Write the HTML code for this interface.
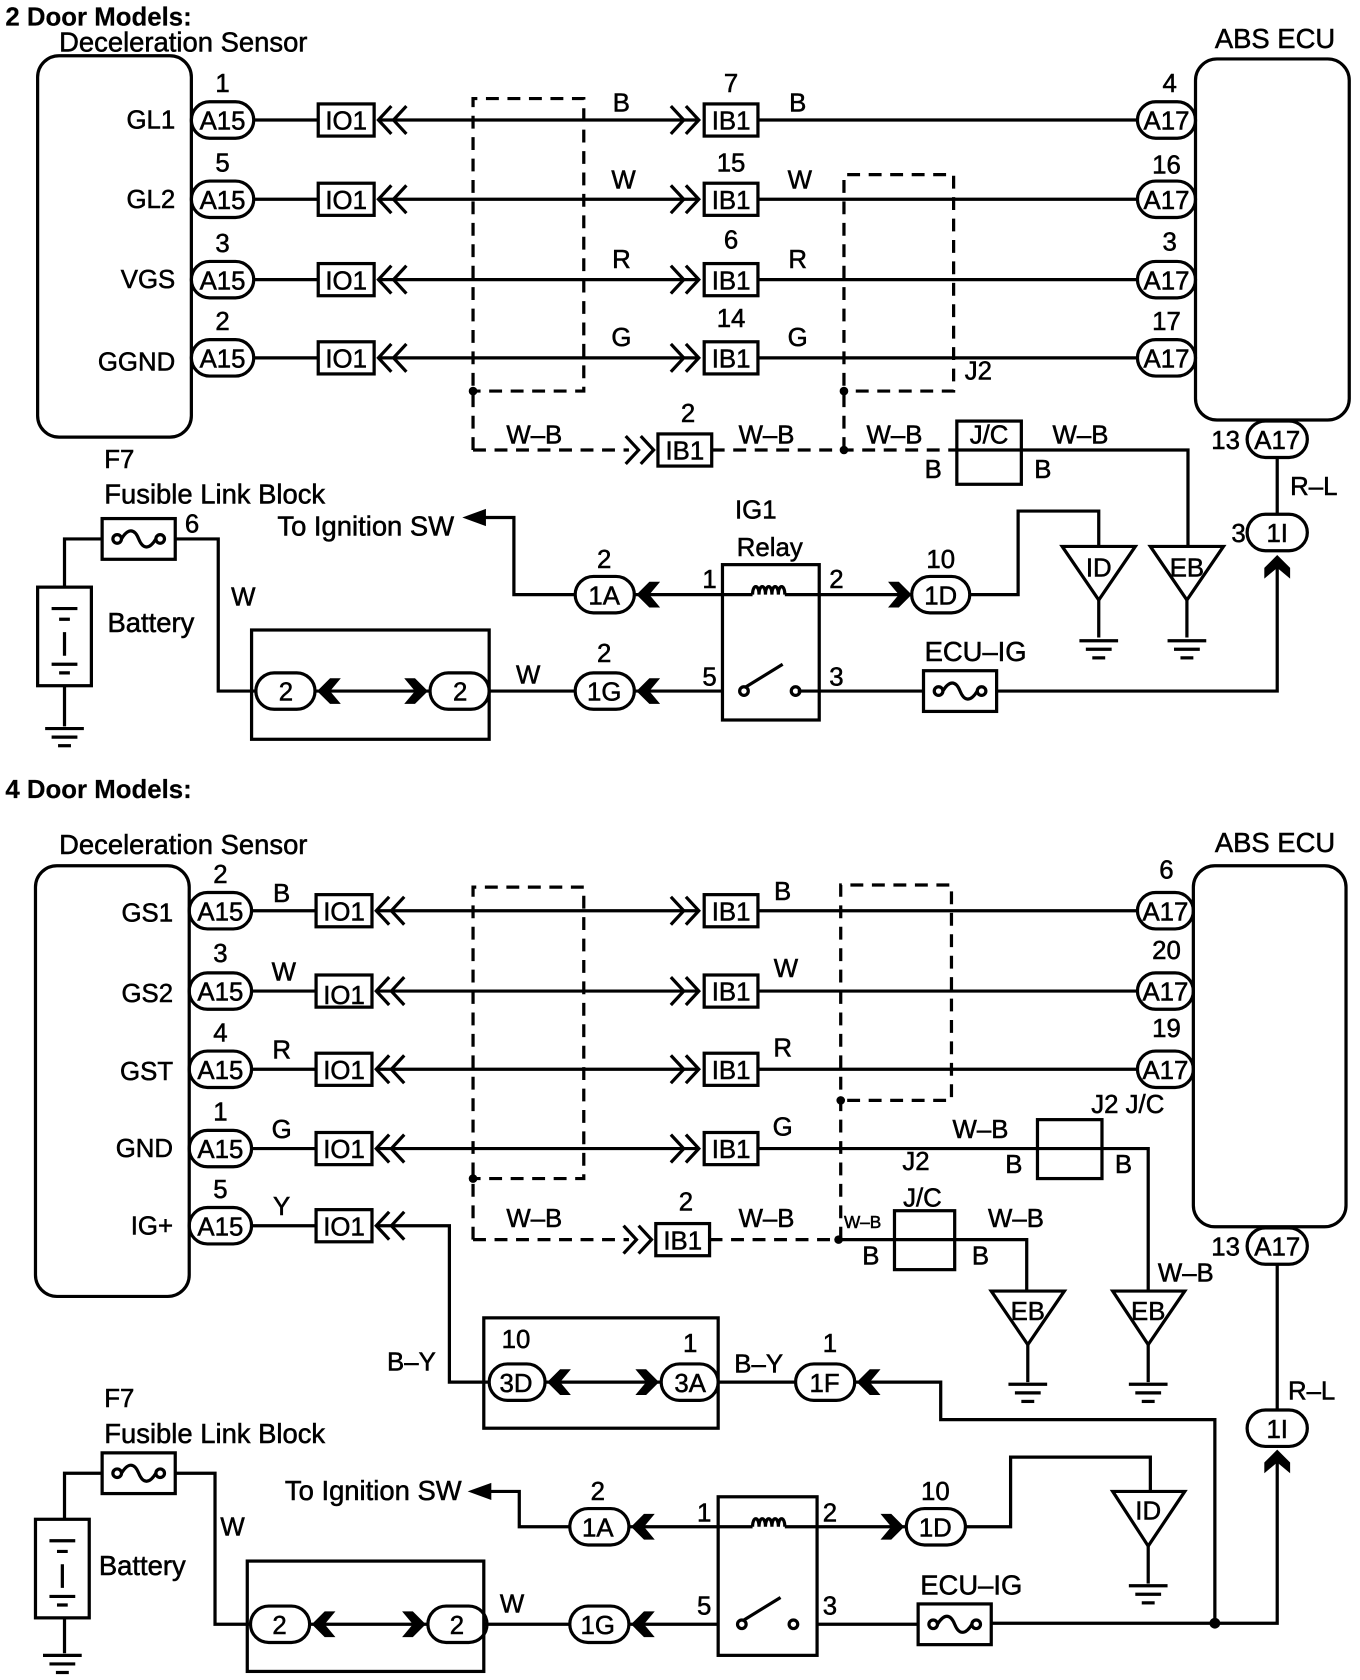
<!DOCTYPE html>
<html><head><meta charset="utf-8"><style>
html,body{margin:0;padding:0;background:#fff;}
svg{display:block}
text{font-family:"Liberation Sans",Arial,sans-serif;font-size:24px;fill:#000;stroke:#000;stroke-width:0.5}
.b{font-weight:bold;stroke-width:0.2}
.L{font-size:25.5px}
</style></head><body>
<svg width="1360" height="1680" viewBox="0 0 1265 1568" preserveAspectRatio="none" xmlns="http://www.w3.org/2000/svg">
<defs>
<g id="ol" fill="none" stroke="#000" stroke-width="3"><polyline points="12,-13 0,0 12,13"/><polyline points="26,-13 14,0 26,13"/></g>
<g id="or" fill="none" stroke="#000" stroke-width="3"><polyline points="-12,-13 0,0 -12,13"/><polyline points="-26,-13 -14,0 -26,13"/></g>
<polygon id="fl" points="0,0 12,-12 22,-12 12,0 22,12 12,12" fill="#000"/>
<polygon id="fr" points="0,0 -12,-12 -22,-12 -12,0 -22,12 -12,12" fill="#000"/>
<polygon id="fu" points="0,0 -12,12 -12,22 0,12 12,22 12,12" fill="#000"/>
<g id="gnd" stroke="#000" stroke-width="3"><line x1="-18" y1="0" x2="18" y2="0"/><line x1="-12" y1="8" x2="12" y2="8"/><line x1="-6" y1="16" x2="6" y2="16"/></g>
<g id="fuse" fill="none" stroke="#000" stroke-width="3"><rect x="-34" y="-19" width="68" height="38"/><circle cx="-20" cy="0" r="4"/><circle cx="20" cy="0" r="4"/><path d="M-16,0 C-10,-10 -4,-10 0,0 C4,10 10,10 16,0"/></g>
</defs>
<g fill="none" stroke="#000" stroke-width="3">
<rect x="35" y="52" width="143" height="356" rx="20"/>
<rect x="1112" y="55" width="143" height="337" rx="20"/>
<rect x="178" y="95" width="58" height="34" rx="17"/><rect x="178" y="169" width="58" height="34" rx="17"/><rect x="178" y="244" width="58" height="34" rx="17"/><rect x="178" y="317" width="58" height="34" rx="17"/>
<path d="M236,112H296M236,186H296M236,261H296M236,334H296"/>
<rect x="296" y="97" width="52" height="30"/><rect x="296" y="171" width="52" height="30"/><rect x="296" y="246" width="52" height="30"/><rect x="296" y="319" width="52" height="30"/>
<path d="M352,112H650M352,186H650M352,261H650M352,334H650"/>
<rect x="655" y="97" width="50" height="30"/><rect x="655" y="171" width="50" height="30"/><rect x="655" y="246" width="50" height="30"/><rect x="655" y="319" width="50" height="30"/>
<path d="M705,112H1058M705,186H1058M705,261H1058M705,334H1058"/>
<rect x="1058" y="95" width="54" height="34" rx="17"/><rect x="1058" y="169" width="54" height="34" rx="17"/><rect x="1058" y="244" width="54" height="34" rx="17"/><rect x="1058" y="317" width="54" height="34" rx="17"/>
<g stroke-dasharray="12,8">
<path d="M440,420V92H543V365H440"/>
<path d="M440,420H585"/>
<path d="M662,420H890"/>
<path d="M785,420V163H887V365H785"/>
</g>
<rect x="612" y="405" width="50" height="30"/>
<rect x="890" y="393" width="60" height="59"/>
<path d="M890,420H950"/>
<path d="M950,420H1105V510"/>
<polygon points="1070,510 1138,510 1104,560"/><path d="M1104,560V595"/>
<polygon points="988,510 1056,510 1022,560"/><path d="M1022,560V595"/>
<path d="M1022,510V477H947V555H902"/>
<rect x="848" y="538" width="54" height="34" rx="17"/>
<path d="M848,555H762"/>
<rect x="1160" y="393" width="56" height="34" rx="17"/>
<path d="M1188,427V480"/>
<rect x="1160" y="480" width="56" height="34" rx="17"/>
<path d="M1188,525V645H928M858,645H742"/>
<rect x="672" y="527" width="90" height="145"/>
<path d="M672,555H700M730,555H762"/>
<path d="M700,555c0,-10 6,-10 6,0c0,-10 6,-10 6,0c0,-10 6,-10 6,0c0,-10 6,-10 6,0c0,-10 6,-10 6,0"/>
<circle cx="692" cy="645" r="4"/><circle cx="740" cy="645" r="4"/><path d="M694,641L728,620"/>
<path d="M672,645H590M535,645H455"/>
<path d="M672,555H590M535,555H478V483H450"/>
<rect x="535" y="538" width="55" height="34" rx="17"/>
<rect x="535" y="628" width="55" height="34" rx="17"/>
<rect x="234" y="588" width="221" height="102"/>
<rect x="238" y="628" width="55" height="34" rx="17"/><rect x="400" y="628" width="55" height="34" rx="17"/>
<path d="M293,645H400"/>
<path d="M238,645H203V503H163"/>
<path d="M95,503H60V548M60,640V678"/>
<rect x="35" y="548" width="50" height="92"/>
<path d="M48,568H72M55,578H65M60,590V612M48,620H72M55,628H65" stroke-width="3"/>
<rect x="33" y="808" width="143" height="402" rx="20"/>
<rect x="1110" y="808" width="142" height="337" rx="20"/>
<rect x="176" y="833" width="58" height="34" rx="17"/><rect x="176" y="908" width="58" height="34" rx="17"/><rect x="176" y="981" width="58" height="34" rx="17"/><rect x="176" y="1055" width="58" height="34" rx="17"/><rect x="176" y="1127" width="58" height="34" rx="17"/>
<path d="M234,850H294M234,925H294M234,998H294M234,1072H294M234,1144H294"/>
<rect x="294" y="835" width="52" height="30"/><rect x="294" y="910" width="52" height="30"/><rect x="294" y="983" width="52" height="30"/><rect x="294" y="1057" width="52" height="30"/><rect x="294" y="1129" width="52" height="30"/>
<path d="M350,850H650M350,925H650M350,998H650M350,1072H650M350,1144H418V1290H455"/>
<rect x="655" y="835" width="50" height="30"/><rect x="655" y="910" width="50" height="30"/><rect x="655" y="983" width="50" height="30"/><rect x="655" y="1057" width="50" height="30"/>
<path d="M705,850H1058M705,925H1058M705,998H1058M705,1072H1068V1205"/>
<rect x="1058" y="833" width="52" height="34" rx="17"/><rect x="1058" y="908" width="52" height="34" rx="17"/><rect x="1058" y="981" width="52" height="34" rx="17"/>
<rect x="965" y="1045" width="60" height="55"/>
<polygon points="1035,1205 1102,1205 1068,1255"/><path d="M1068,1255V1290"/>
<g stroke-dasharray="12,8">
<path d="M440,1157V828H543V1100H440"/>
<path d="M440,1157H585"/>
<path d="M660,1157H780"/>
<path d="M782,1157V826H885V1027H782"/>
</g>
<rect x="610" y="1142" width="50" height="30"/>
<path d="M780,1157H955V1205"/>
<rect x="832" y="1130" width="56" height="55"/>
<polygon points="922,1205 990,1205 956,1255"/><path d="M956,1255V1290"/>
<rect x="1160" y="1146" width="56" height="34" rx="17"/>
<path d="M1188,1180V1316"/>
<rect x="1160" y="1316" width="56" height="34" rx="17"/>
<path d="M1188,1362V1515H923M853,1516H760"/>
<path d="M1130,1515V1325H875V1290H795"/>
<rect x="740" y="1273" width="55" height="34" rx="17"/>
<path d="M740,1290H668"/>
<rect x="450" y="1230" width="218" height="103"/>
<rect x="455" y="1273" width="52" height="34" rx="17"/><rect x="615" y="1273" width="53" height="34" rx="17"/>
<path d="M507,1290H615"/>
<rect x="668" y="1397" width="92" height="148"/>
<path d="M668,1425H700M730,1425H760"/>
<path d="M700,1425c0,-10 6,-10 6,0c0,-10 6,-10 6,0c0,-10 6,-10 6,0c0,-10 6,-10 6,0c0,-10 6,-10 6,0"/>
<circle cx="690" cy="1516" r="4"/><circle cx="738" cy="1516" r="4"/><path d="M692,1512L726,1491"/>
<path d="M668,1425H585M530,1425H483V1392H455"/>
<rect x="530" y="1408" width="55" height="34" rx="17"/>
<path d="M760,1425H843"/>
<rect x="843" y="1408" width="55" height="34" rx="17"/>
<path d="M898,1425H940V1360H1070V1392"/>
<polygon points="1035,1392 1102,1392 1068,1443"/><path d="M1068,1443V1478"/>
<path d="M668,1516H585M530,1516H450"/>
<rect x="530" y="1499" width="55" height="34" rx="17"/>
<rect x="230" y="1457" width="220" height="103"/>
<rect x="233" y="1499" width="55" height="34" rx="17"/><rect x="398" y="1499" width="55" height="34" rx="17"/>
<path d="M288,1516H398"/>
<path d="M233,1516H200V1375H163"/>
<path d="M95,1375H60V1418M60,1510V1543"/>
<rect x="33" y="1418" width="50" height="92"/>
<path d="M46,1438H70M53,1448H63M58,1460V1482M46,1490H70M53,1498H63"/>
</g>
<use href="#ol" x="352" y="112"/><use href="#ol" x="352" y="186"/><use href="#ol" x="352" y="261"/><use href="#ol" x="352" y="334"/>
<use href="#or" x="650" y="112"/><use href="#or" x="650" y="186"/><use href="#or" x="650" y="261"/><use href="#or" x="650" y="334"/>
<use href="#or" x="608" y="420"/>
<circle cx="440" cy="365" r="4"/><circle cx="785" cy="365" r="4"/><circle cx="785" cy="420" r="4"/>
<use href="#gnd" x="1104" y="598"/><use href="#gnd" x="1022" y="598"/>
<use href="#fr" x="848" y="555"/><use href="#fl" x="592" y="555"/><use href="#fl" x="592" y="645"/>
<use href="#fl" x="295" y="645"/><use href="#fr" x="398" y="645"/>
<use href="#fu" x="1188" y="518"/>
<use href="#fuse" x="129" y="503"/><use href="#fuse" x="893" y="645"/>
<use href="#gnd" x="60" y="680"/>
<polygon points="430,483 452,475 452,491"/>
<use href="#ol" x="350" y="850"/><use href="#ol" x="350" y="925"/><use href="#ol" x="350" y="998"/><use href="#ol" x="350" y="1072"/><use href="#ol" x="350" y="1144"/>
<use href="#or" x="650" y="850"/><use href="#or" x="650" y="925"/><use href="#or" x="650" y="998"/><use href="#or" x="650" y="1072"/>
<use href="#or" x="606" y="1157"/>
<circle cx="440" cy="1100" r="4"/><circle cx="782" cy="1027" r="4"/><circle cx="780" cy="1157" r="4"/>
<use href="#gnd" x="956" y="1292"/><use href="#gnd" x="1068" y="1292"/><use href="#gnd" x="1068" y="1480"/>
<use href="#fl" x="797" y="1290"/><use href="#fl" x="509" y="1290"/><use href="#fr" x="613" y="1290"/>
<use href="#fu" x="1188" y="1353"/>
<circle cx="1130" cy="1515" r="5"/>
<use href="#fl" x="587" y="1425"/><use href="#fr" x="841" y="1425"/><use href="#fl" x="587" y="1516"/>
<use href="#fl" x="290" y="1516"/><use href="#fr" x="396" y="1516"/>
<use href="#fuse" x="129" y="1375"/><use href="#fuse" x="888" y="1516"/>
<use href="#gnd" x="58" y="1545"/>
<polygon points="435,1392 457,1384 457,1400"/>
<text x="5" y="24" class="b">2 Door Models:</text>
<text x="55" y="48" class="L">Deceleration Sensor</text>
<text x="1130" y="45" class="L">ABS ECU</text>
<g text-anchor="end"><text x="163" y="120">GL1</text><text x="163" y="194">GL2</text><text x="163" y="269">VGS</text><text x="163" y="346">GGND</text></g>
<g text-anchor="middle">
<text x="207" y="121">A15</text><text x="207" y="195">A15</text><text x="207" y="270">A15</text><text x="207" y="343">A15</text>
<text x="207" y="86">1</text><text x="207" y="160">5</text><text x="207" y="235">3</text><text x="207" y="308">2</text>
<text x="322" y="121">IO1</text><text x="322" y="195">IO1</text><text x="322" y="270">IO1</text><text x="322" y="343">IO1</text>
<text x="680" y="121">IB1</text><text x="680" y="195">IB1</text><text x="680" y="270">IB1</text><text x="680" y="343">IB1</text>
<text x="680" y="86">7</text><text x="680" y="160">15</text><text x="680" y="232">6</text><text x="680" y="305">14</text>
<text x="1085" y="121">A17</text><text x="1085" y="195">A17</text><text x="1085" y="270">A17</text><text x="1085" y="343">A17</text>
<text x="1088" y="86">4</text><text x="1085" y="162">16</text><text x="1088" y="234">3</text><text x="1085" y="308">17</text>
<text x="578" y="104">B</text><text x="580" y="176">W</text><text x="578" y="250">R</text><text x="578" y="323">G</text>
<text x="742" y="104">B</text><text x="744" y="176">W</text><text x="742" y="250">R</text><text x="742" y="323">G</text>
<text x="637" y="429">IB1</text><text x="640" y="394">2</text>
<text x="497" y="414">W–B</text><text x="713" y="414">W–B</text><text x="832" y="414">W–B</text><text x="1005" y="414">W–B</text>
<text x="868" y="446">B</text><text x="970" y="446">B</text>
<text x="910" y="354">J2</text><text x="920" y="414">J/C</text>
<text x="1188" y="419">A17</text><text x="1140" y="419">13</text>
<text x="1188" y="506">1I</text><text x="1152" y="506">3</text>
<text x="1222" y="462">R–L</text>
<text x="1022" y="538">ID</text><text x="1104" y="538">EB</text>
<text x="875" y="564">1D</text><text x="875" y="530">10</text>
<text x="562" y="564">1A</text><text x="562" y="530">2</text>
<text x="562" y="654">1G</text><text x="562" y="618">2</text>
<text x="266" y="654">2</text><text x="428" y="654">2</text>
<text x="703" y="484">IG1</text><text x="716" y="519">Relay</text>
<text x="660" y="549">1</text><text x="778" y="549">2</text><text x="660" y="640">5</text><text x="778" y="640">3</text>
</g>
<text x="860" y="617" class="L">ECU–IG</text>
<text x="97" y="437">F7</text>
<text x="97" y="470" class="L">Fusible Link Block</text>
<text x="172" y="497">6</text>
<text x="258" y="500" class="L">To Ignition SW</text>
<text x="100" y="590" class="L">Battery</text>
<text x="215" y="565">W</text><text x="480" y="638">W</text>
<text x="5" y="745" class="b">4 Door Models:</text>
<text x="55" y="797" class="L">Deceleration Sensor</text>
<text x="1130" y="795" class="L">ABS ECU</text>
<g text-anchor="end"><text x="161" y="860">GS1</text><text x="161" y="935">GS2</text><text x="161" y="1008">GST</text><text x="161" y="1080">GND</text><text x="161" y="1152">IG+</text></g>
<g text-anchor="middle">
<text x="205" y="859">A15</text><text x="205" y="934">A15</text><text x="205" y="1007">A15</text><text x="205" y="1081">A15</text><text x="205" y="1153">A15</text>
<text x="205" y="824">2</text><text x="205" y="898">3</text><text x="205" y="972">4</text><text x="205" y="1046">1</text><text x="205" y="1118">5</text>
<text x="262" y="842">B</text><text x="264" y="915">W</text><text x="262" y="988">R</text><text x="262" y="1062">G</text><text x="262" y="1134">Y</text>
<text x="320" y="859">IO1</text><text x="320" y="937">IO1</text><text x="320" y="1007">IO1</text><text x="320" y="1081">IO1</text><text x="320" y="1153">IO1</text>
<text x="680" y="859">IB1</text><text x="680" y="934">IB1</text><text x="680" y="1007">IB1</text><text x="680" y="1081">IB1</text>
<text x="728" y="840">B</text><text x="731" y="912">W</text><text x="728" y="986">R</text><text x="728" y="1060">G</text>
<text x="1084" y="859">A17</text><text x="1084" y="934">A17</text><text x="1084" y="1007">A17</text>
<text x="1085" y="820">6</text><text x="1085" y="895">20</text><text x="1085" y="968">19</text>
<text x="635" y="1166">IB1</text><text x="638" y="1130">2</text>
<text x="497" y="1145">W–B</text><text x="713" y="1145">W–B</text><text x="945" y="1145">W–B</text>
<text x="912" y="1062">W–B</text><text x="1103" y="1196">W–B</text>
<text x="943" y="1095">B</text><text x="1045" y="1095">B</text>
<text x="810" y="1180">B</text><text x="912" y="1180">B</text>
<text x="852" y="1092">J2</text><text x="858" y="1126">J/C</text>
<text x="1188" y="1172">A17</text><text x="1140" y="1172">13</text>
<text x="1188" y="1342">1I</text><text x="1220" y="1306">R–L</text>
<text x="956" y="1232">EB</text><text x="1068" y="1232">EB</text><text x="1068" y="1418">ID</text>
<text x="480" y="1299">3D</text><text x="642" y="1299">3A</text><text x="480" y="1258">10</text><text x="642" y="1262">1</text>
<text x="767" y="1299">1F</text><text x="772" y="1262">1</text>
<text x="556" y="1434">1A</text><text x="556" y="1400">2</text>
<text x="870" y="1434">1D</text><text x="870" y="1400">10</text>
<text x="556" y="1525">1G</text>
<text x="260" y="1525">2</text><text x="425" y="1525">2</text>
<text x="655" y="1420">1</text><text x="772" y="1420">2</text><text x="655" y="1507">5</text><text x="772" y="1507">3</text>
</g>
<text x="785" y="1146" style="font-size:16px">W–B</text>
<text x="1015" y="1039">J2 J/C</text>
<text x="360" y="1279">B–Y</text><text x="683" y="1281">B–Y</text>
<text x="856" y="1488" class="L">ECU–IG</text>
<text x="97" y="1313">F7</text>
<text x="97" y="1347" class="L">Fusible Link Block</text>
<text x="265" y="1400" class="L">To Ignition SW</text>
<text x="92" y="1470" class="L">Battery</text>
<text x="205" y="1433">W</text><text x="465" y="1505">W</text>
</svg>
</body></html>
